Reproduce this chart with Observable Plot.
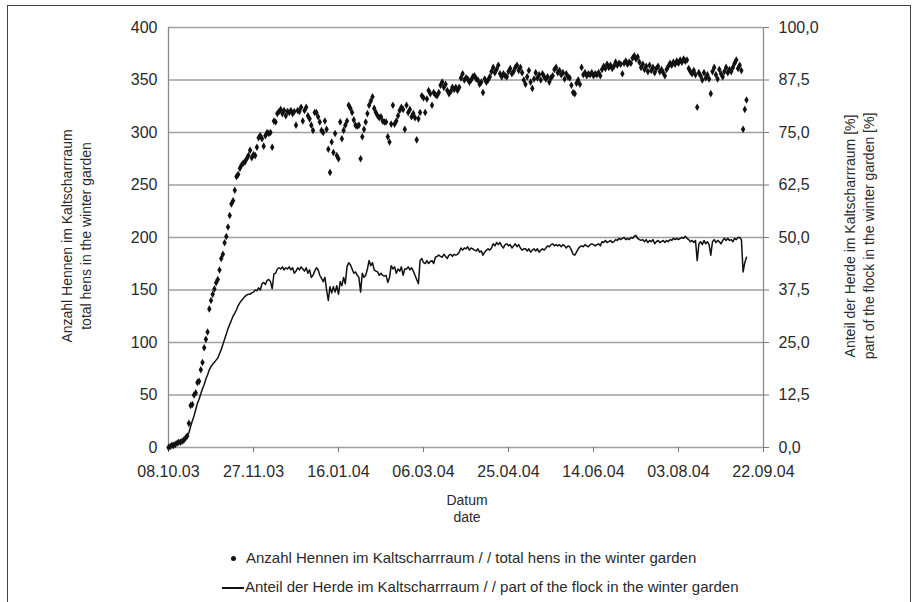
<!DOCTYPE html>
<html>
<head>
<meta charset="utf-8">
<script src="https://cdn.jsdelivr.net/npm/d3@7"></script>
<script src="https://cdn.jsdelivr.net/npm/@observablehq/plot@0.6"></script>
<style>
  html, body { margin: 0; padding: 0; background: #fff; }
  body { width: 917px; height: 602px; position: relative; overflow: hidden; font-family: "Liberation Sans", Arial, sans-serif; color: #2a2a2a; }
  #frame { position: absolute; left: 7px; top: 5px; width: 904px; height: 640px; border: 1px solid #444; box-sizing: border-box; }
  #chart { position: absolute; left: 0; top: 0; }
  .t { position: absolute; white-space: nowrap; color: #2a2a2a; }
  .ax { font-size: 14px; line-height: 19px; text-align: center; }
  .rot { transform-origin: center center; transform: rotate(-90deg); }
  .lg { font-size: 15px; line-height: 18px; }
</style>
</head>
<body>
<div id="frame"></div>
<div id="chart"></div>
<div class="t ax" style="left:317px; width:300px; top:492px; line-height:17px;">Datum<br>date</div>
<div class="t ax rot" style="left:-73px; top:217px; width:300px;">Anzahl Hennen im Kaltscharrraum<br>total hens in the winter garden</div>
<div class="t ax rot" style="left:710px; top:217px; width:300px;">Anteil der Herde im Kaltscharrraum [%]<br>part of the flock in the winter garden [%]</div>
<div class="t lg" style="left:231px; top:549px;"><span style="display:inline-block;width:5px;height:5px;border-radius:50%;background:#111;vertical-align:middle;margin-right:10px;position:relative;top:-1px;"></span>Anzahl Hennen im Kaltscharrraum / / total hens in the winter garden</div>
<div class="t lg" style="left:222px; top:578px;"><span style="display:inline-block;width:22px;height:2px;background:#111;vertical-align:middle;margin-right:1px;"></span>Anteil der Herde im Kaltscharrraum / / part of the flock in the winter garden</div>
<script>
const startDate = "2003-10-08";
const xTickLabels = ["2003-10-08","2003-11-27","2004-01-16","2004-03-06","2004-04-25","2004-06-14","2004-08-03","2004-09-22"];
const yTicks = [0,50,100,150,200,250,300,350,400];

// total hens in the winter garden (daily)
const hens = [
0,1,2,2,3,4,5,5,6,7,
9,11,23,40,41,50,52,62,63,74,
81,95,103,110,132,140,146,151,157,160,
169,180,184,195,201,210,221,232,235,245,
258,260,266,269,271,272,275,278,283,276,
279,278,286,295,297,294,287,297,300,299,
300,286,311,310,318,320,322,318,321,316,
320,319,321,318,320,307,321,320,324,311,
321,324,316,313,307,302,319,319,315,310,
302,300,311,303,284,262,291,281,299,278,
275,310,294,302,307,311,326,323,319,312,
307,306,307,275,296,303,310,318,326,330,
334,323,319,316,314,315,311,310,310,296,
291,308,326,308,311,316,321,324,322,303,
326,319,322,315,318,314,293,313,319,335,
333,319,332,340,337,326,338,336,335,338,
345,348,343,346,340,337,339,343,341,343,
340,343,352,356,350,352,351,348,350,353,
354,351,350,346,348,338,351,348,350,353,
358,362,357,360,364,356,353,356,354,353,
358,361,356,358,362,364,359,362,357,350,
346,353,359,348,342,351,357,352,355,350,
356,353,351,353,348,352,354,360,362,357,
359,355,357,351,356,353,352,345,338,337,
347,350,346,362,355,357,354,356,355,357,
354,356,355,357,354,360,363,361,365,362,
364,361,363,367,364,366,365,356,366,368,
365,367,366,371,373,370,372,367,362,365,
360,363,358,364,359,362,357,361,363,358,
360,357,354,360,363,366,364,367,365,368,
366,369,367,370,368,369,361,358,356,359,
355,324,357,354,350,357,352,355,351,337,
358,362,355,351,360,356,353,358,362,357,
360,358,362,366,369,361,364,359,303,322,331
];

// part of the flock in the winter garden, % (daily)
const share = [
0.1,0.3,0.4,0.6,0.8,1.0,1.2,1.4,1.6,1.9,
2.3,2.8,3.5,5.0,6.3,7.5,9.0,10.5,11.5,12.8,
14.0,15.0,16.3,17.3,18.5,19.3,19.8,20.3,20.8,21.3,
22.3,23.3,24.5,25.8,27.0,28.3,29.3,30.3,31.3,32.0,
32.8,33.8,34.5,35.0,35.5,36.0,36.3,36.5,36.5,36.8,
37.0,37.5,37.3,38.0,37.5,39.0,39.3,38.8,39.8,40.0,
39.5,37.8,41.3,41.5,42.5,42.8,42.5,43.0,42.3,42.8,
42.5,43.0,42.3,42.8,41.5,42.0,42.8,42.3,43.0,42.5,
42.0,42.8,41.5,42.3,40.5,41.0,42.0,42.8,42.3,41.0,
40.3,39.5,40.5,37.5,35.0,38.3,36.8,38.3,37.0,38.5,
36.5,39.5,38.5,40.5,39.0,43.0,44.0,43.5,42.5,41.5,
41.8,41.0,40.5,37.0,41.5,40.5,41.0,42.5,44.5,43.3,
44.0,42.3,42.0,41.8,41.0,41.5,41.0,40.8,41.0,39.3,
40.5,43.3,42.5,43.0,41.5,42.5,42.0,43.0,41.0,42.5,
42.5,43.0,42.3,42.8,42.0,41.0,40.0,39.0,44.5,45.0,
44.0,43.8,44.5,43.8,44.3,44.5,43.8,45.3,45.5,45.8,
45.5,45.3,46.0,45.5,45.0,45.8,46.0,45.5,46.0,45.8,
46.0,46.5,47.5,47.0,47.5,47.3,47.8,47.0,47.5,47.3,
47.0,46.8,47.3,46.5,46.8,45.8,46.5,47.0,47.3,47.0,
47.5,48.5,48.0,48.8,48.3,48.8,48.0,47.5,48.3,48.5,
48.0,48.3,47.5,48.0,48.5,47.8,48.3,47.5,47.0,47.3,
47.3,46.8,47.3,46.5,47.0,47.3,46.8,47.3,46.5,47.0,
47.3,47.0,47.5,48.0,47.8,48.3,48.5,48.0,48.3,48.0,
48.3,47.8,48.3,48.0,47.5,48.0,47.8,47.0,46.0,45.8,
46.5,47.3,47.8,48.0,47.8,48.3,48.0,47.8,48.3,48.5,
48.3,48.0,48.3,48.5,48.0,49.0,48.8,49.3,48.8,49.0,
49.3,48.8,49.0,49.5,49.3,49.8,49.5,49.8,50.0,49.5,
49.8,49.5,50.0,49.8,50.3,50.5,49.8,49.5,49.3,49.5,
49.0,49.5,48.8,49.3,49.0,49.5,48.5,49.0,49.3,48.8,
49.0,49.3,48.8,49.3,49.0,49.5,49.3,49.8,49.5,49.8,
49.5,49.8,50.0,49.8,50.3,49.8,49.5,49.0,49.3,48.8,
49.3,44.5,48.5,49.0,48.3,49.3,48.5,49.0,48.3,45.8,
49.0,49.5,48.8,49.3,49.0,48.5,49.3,49.8,49.3,49.8,
49.3,49.5,49.0,49.8,49.5,50.0,50.0,49.5,41.8,44.0,45.3
];

const t0 = new Date(startDate + "T00:00:00Z");
const day = (i) => new Date(t0.getTime() + i * 864e5);
const henData = hens.map((v, i) => ({date: day(i), v}));
const shareData = share.map((p, i) => ({date: day(i), p}));
const xTicks = xTickLabels.map(s => new Date(s + "T00:00:00Z"));
const xDomain = [xTicks[0], xTicks[xTicks.length - 1]];
const fmt = d3.utcFormat("%d.%m.%y");
const pct = (c) => (c / 4).toFixed(1).replace(".", ",");

const chart = Plot.plot({
  width: 917,
  height: 520,
  marginLeft: 168,
  marginRight: 154,
  marginTop: 27,
  marginBottom: 73,
  style: {fontFamily: "'Liberation Sans', Arial, sans-serif", fontSize: "16px", color: "#2a2a2a", background: "transparent", overflow: "visible"},
  x: {type: "utc", domain: xDomain},
  y: {domain: [0, 400]},
  marks: [
    Plot.ruleY(yTicks, {stroke: "#a0a0a0", strokeWidth: 1.3}),
    Plot.ruleX([xDomain[0], xDomain[1]], {stroke: "#8a8a8a", strokeWidth: 1.3}),
    Plot.axisY({ticks: yTicks, tickSize: 0, tickPadding: 11, label: null, fontSize: 16}),
    Plot.axisY({anchor: "right", ticks: yTicks, tickSize: 5, tickPadding: 10, tickFormat: pct, label: null, fontSize: 16, stroke: "#777"}),
    Plot.axisX({ticks: xTicks, tickFormat: fmt, tickSize: 5, tickPadding: 13, label: null, fontSize: 16, stroke: "#777"}),
    Plot.line(shareData, {x: "date", y: d => d.p * 4, stroke: "#111", strokeWidth: 1.5}),
    Plot.dot(henData, {x: "date", y: "v", r: 2.3, fill: "#111", stroke: "none", symbol: "diamond"})
  ]
});
document.getElementById("chart").appendChild(chart);
</script>
</body>
</html>
